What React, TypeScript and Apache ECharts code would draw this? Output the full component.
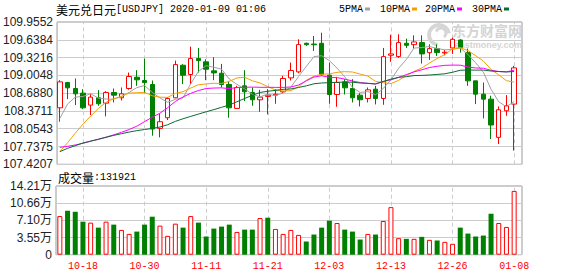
import React, { useEffect, useRef } from 'react';
import * as echarts from 'echarts';

const dates = [
  '10-15','10-16','10-17','10-18','10-21','10-22','10-23','10-24','10-25','10-28',
  '10-29','10-30','10-31','11-01','11-04','11-05','11-06','11-07','11-08','11-11',
  '11-12','11-13','11-14','11-15','11-18','11-19','11-20','11-21','11-22','11-25',
  '11-26','11-27','11-28','11-29','12-02','12-03','12-04','12-05','12-06','12-09',
  '12-10','12-11','12-12','12-13','12-16','12-17','12-18','12-19','12-20','12-23',
  '12-24','12-26','12-27','12-30','12-31','01-02','01-03','01-06','01-07','01-08',
];
const labelDates = ['10-18','10-30','11-11','11-21','12-03','12-13','12-26','01-08'];

const opens = [
  108.427,108.877,108.771,108.688,108.475,108.605,108.510,108.700,108.605,108.771,
  108.972,108.913,108.842,108.060,108.250,108.605,109.185,109.020,109.304,109.245,
  109.085,109.043,108.842,108.416,108.818,108.700,108.570,108.629,108.652,108.712,
  108.960,109.067,109.576,109.562,109.576,109.008,108.664,108.889,108.771,108.652,
  108.593,108.759,108.593,109.363,109.339,109.576,109.552,109.588,109.410,109.481,
  109.404,109.493,109.635,109.410,108.907,108.670,108.581,107.901,108.374,108.493,
];
const closes = [
  108.889,108.783,108.676,108.427,108.617,108.499,108.700,108.652,108.676,108.984,
  108.925,108.877,108.049,108.179,108.593,109.197,109.008,109.304,109.268,109.114,
  109.049,108.842,108.427,108.789,108.712,108.570,108.617,108.652,108.670,108.949,
  109.091,109.552,109.552,109.550,109.026,108.664,108.877,108.783,108.605,108.570,
  108.747,108.593,109.339,109.387,109.588,109.540,109.600,109.387,109.481,109.410,
  109.416,109.647,109.505,108.907,108.670,108.581,108.120,108.392,108.463,109.138,
];
const lows = [
  108.179,108.581,108.475,108.404,108.297,108.463,108.274,108.522,108.558,108.747,
  108.818,108.688,107.930,107.901,108.208,108.599,108.848,108.848,109.055,108.919,
  108.919,108.789,108.250,108.404,108.546,108.463,108.356,108.309,108.499,108.688,
  108.913,109.043,109.529,109.440,108.996,108.499,108.445,108.664,108.522,108.451,
  108.522,108.487,108.481,109.245,109.316,109.493,109.481,109.215,109.280,109.351,
  109.363,109.387,109.410,108.818,108.493,108.238,107.871,107.782,108.285,107.664,
];
const highs = [
  108.919,108.889,108.949,108.759,108.670,108.741,108.724,108.771,108.789,109.055,
  109.097,109.304,108.913,108.315,108.617,109.268,109.203,109.517,109.493,109.292,
  109.327,109.209,108.907,108.818,109.097,108.789,108.747,108.759,108.759,108.996,
  109.233,109.647,109.588,109.706,109.765,109.233,108.978,108.937,108.937,108.688,
  108.789,108.818,109.493,109.730,109.736,109.659,109.718,109.718,109.558,109.558,
  109.458,109.677,109.647,109.481,108.907,108.877,108.641,108.451,108.652,109.174,
];

const ma5 = [
  108.238,108.493,108.617,108.629,108.678,108.600,108.584,108.579,108.629,108.702,
  108.787,108.823,108.702,108.603,108.525,108.579,108.605,108.856,109.074,109.178,
  109.149,109.115,108.940,108.844,108.764,108.668,108.623,108.668,108.644,108.692,
  108.796,108.983,109.163,109.339,109.354,109.269,109.134,108.980,108.791,108.700,
  108.716,108.660,108.771,108.927,109.131,109.289,109.491,109.500,109.519,109.484,
  109.459,109.468,109.492,109.377,109.229,109.062,108.757,108.534,108.445,108.539,
];
const ma10 = [
  107.646,107.805,107.975,108.135,108.280,108.415,108.525,108.590,108.629,108.690,
  108.694,108.703,108.641,108.616,108.613,108.683,108.714,108.779,108.838,108.851,
  108.864,108.860,108.898,108.959,108.971,108.908,108.869,108.804,108.744,108.728,
  108.732,108.803,108.915,108.992,109.023,109.032,109.058,109.071,109.065,109.027,
  108.993,108.897,108.875,108.859,108.915,109.003,109.075,109.136,109.223,109.307,
  109.374,109.480,109.496,109.448,109.356,109.260,109.112,109.013,108.911,108.884,
];
const ma20 = [
  107.723,107.740,107.765,107.795,107.830,107.868,107.905,107.945,107.990,108.040,
  108.100,108.180,108.260,108.330,108.430,108.540,108.620,108.685,108.734,108.771,
  108.779,108.782,108.769,108.787,108.792,108.796,108.792,108.792,108.791,108.790,
  108.798,108.832,108.907,108.975,108.997,108.970,108.964,108.938,108.905,108.877,
  108.862,108.850,108.895,108.925,108.969,109.018,109.067,109.104,109.144,109.167,
  109.183,109.188,109.186,109.154,109.136,109.132,109.094,109.074,109.067,109.096,
];
const ma30 = [
  107.646,107.705,107.752,107.800,107.835,107.865,107.901,107.936,107.966,107.995,
  108.020,108.040,108.060,108.085,108.125,108.185,108.232,108.274,108.315,108.356,
  108.395,108.435,108.478,108.534,108.593,108.650,108.700,108.722,108.737,108.756,
  108.763,108.789,108.818,108.855,108.869,108.875,108.881,108.885,108.883,108.869,
  108.863,108.853,108.896,108.937,108.970,108.981,109.001,109.004,109.011,109.021,
  109.033,109.060,109.096,109.100,109.098,109.099,109.082,109.073,109.066,109.073,
];

const volumes = [
  79900,90900,88800,68300,66300,56000,68300,62200,51200,43000,
  47800,62200,78600,60100,38900,64200,56000,79900,66300,37600,
  54000,58100,62200,47100,51900,51900,75800,76500,53300,43000,
  51200,41000,27300,41700,56000,70400,65600,51900,47800,31400,
  43000,41700,69700,98400,34200,32800,32800,36900,30700,29400,
  26600,22500,56000,43700,37600,39600,84700,65600,57400,131921,
];
// 1 = red hollow bar, 0 = green filled bar
const volumeUp = [
  1,0,0,0,1,0,1,0,1,1,
  0,0,0,1,1,1,0,1,0,0,
  0,0,0,1,0,0,1,0,1,1,
  1,1,0,0,0,0,1,0,0,0,
  1,0,1,1,1,0,1,0,1,0,
  1,1,0,0,0,0,0,1,1,1,
];

const priceTickLabels = ['107.4207','107.7375','108.0543','108.3711','108.6880','109.0048','109.3216','109.6384','109.9552'];
const volumeTickLabels = ['0','3.55万','7.10万','10.66万','14.21万'];
const PRICE_MIN = 107.4207;
const PRICE_MAX = 109.9552;
const VOL_MAX = 142098;

const maNames = ['5PMA','10PMA','20PMA','30PMA'];
const maColors = ['#a0a0a0','#f5a000','#ff00ff','#0b6b30'];
const maData = [ma5, ma10, ma20, ma30];

const UP = '#ff0000';
const DOWN = '#008000';
const CJK = "'Noto Sans CJK SC'";
const MONO = "'Liberation Mono'";
const SANS = "'Liberation Sans', 'Noto Sans CJK SC'";

function txt(text: string, x: number, y: number, size: number, family: string, fill: string, extra: any = {}) {
  return {
    type: 'text', x, y, silent: true, z: 10,
    style: { text, fill, fontSize: size, fontFamily: family, verticalAlign: 'middle', textVerticalAlign: 'middle', ...extra },
  };
}

function buildOption() {
  const legendX = [339, 380, 425, 472];
  const graphics: any[] = [
    txt('美元兑日元', 56, 9, 12, CJK, '#000'),
    txt('[USDJPY] 2020-01-09 01:06', 116, 9, 10, MONO, '#000'),
    txt('成交量', 58, 177, 12, CJK, '#000'),
    txt(':131921', 94, 177, 10, MONO, '#000'),
  ];
  maNames.forEach((n, i) => {
    graphics.push(txt(n, legendX[i], 9, 10, MONO, '#000'));
    graphics.push({
      type: 'rect', silent: true, z: 10,
      shape: { x: legendX[i] + n.length * 6 + 2, y: 7.5, width: 5, height: 3 },
      style: { fill: maColors[i] },
    });
  });
  // watermark
  graphics.push({
    type: 'group', silent: true, z: 1,
    children: [
      { type: 'arc', shape: { cx: 439, cy: 35, r: 10, startAngle: Math.PI * 0.55, endAngle: Math.PI * 1.95 }, style: { stroke: '#d6d6d6', lineWidth: 4, fill: 'none' }, z: 1 },
      { type: 'arc', shape: { cx: 441, cy: 33, r: 5, startAngle: Math.PI * 1.1, endAngle: Math.PI * 2.3 }, style: { stroke: '#d6d6d6', lineWidth: 3, fill: 'none' }, z: 1 },
      { type: 'text', x: 452, y: 30, z: 1, style: { text: '东方财富网', fill: '#d4d4d4', fontSize: 14, fontWeight: 'bold', fontFamily: CJK, verticalAlign: 'middle', textVerticalAlign: 'middle' } },
      { type: 'text', x: 522, y: 44.5, z: 1, style: { text: 'eastmoney.com', fill: '#d4d4d4', fontSize: 9, fontWeight: 'bold', fontFamily: "'Liberation Sans'", align: 'right', textAlign: 'right', verticalAlign: 'middle', textVerticalAlign: 'middle' } },
    ],
  });

  const vLines = {
    silent: true, symbol: ['none', 'none'], z: 1,
    label: { show: false },
    lineStyle: { type: [4, 3], color: '#cccccc', width: 1 },
    emphasis: { disabled: true },
    data: labelDates.map((d) => ({ xAxis: d })),
  };

  const bgY = (labels: string[], gridIndex: number) => ({
    type: 'value', gridIndex, min: 0, max: labels.length - 1, interval: 1,
    axisLine: { show: false }, axisTick: { show: false },
    axisLabel: {
      margin: 4, color: '#222', fontSize: 12, fontFamily: SANS,
      formatter: (v: number) => labels[Math.round(v)],
    },
    splitLine: { show: true, lineStyle: { color: '#cccccc', width: 1 } },
  });

  return {
    animation: false,
    backgroundColor: '#fff',
    grid: [
      { left: 56, top: 22, width: 466, height: 142.3, show: true, borderColor: '#999', borderWidth: 1 },
      { left: 56, top: 186, width: 466, height: 68.7, show: true, borderColor: '#999', borderWidth: 1 },
      { left: 56, top: 22, width: 462, height: 142.3 },
      { left: 56, top: 186, width: 462, height: 68.7 },
    ],
    xAxis: [
      { type: 'value', gridIndex: 0, show: false, min: 0, max: 1 },
      { type: 'value', gridIndex: 1, show: false, min: 0, max: 1 },
      {
        type: 'category', gridIndex: 2, data: dates, boundaryGap: true,
        axisLine: { show: false }, axisTick: { show: false }, axisLabel: { show: false }, splitLine: { show: false },
      },
      {
        type: 'category', gridIndex: 3, data: dates, boundaryGap: true,
        axisLine: { show: false }, axisTick: { show: false }, splitLine: { show: false },
        axisLabel: {
          show: true, margin: 7, color: UP, fontSize: 10, fontFamily: MONO,
          interval: (i: number) => labelDates.indexOf(dates[i]) >= 0,
        },
      },
    ],
    yAxis: [
      bgY(priceTickLabels, 0),
      bgY(volumeTickLabels, 1),
      { type: 'value', gridIndex: 2, min: PRICE_MIN, max: PRICE_MAX, show: false, splitLine: { show: false } },
      { type: 'value', gridIndex: 3, min: 0, max: VOL_MAX, show: false, splitLine: { show: false } },
    ],
    graphic: graphics,
    series: [
      {
        type: 'candlestick', xAxisIndex: 2, yAxisIndex: 2, barWidth: 5, z: 2,
        data: opens.map((o, i) => [o, closes[i], lows[i], highs[i]]),
        itemStyle: { color: '#ffffff', color0: DOWN, borderColor: UP, borderColor0: DOWN, borderWidth: 1 },
        markLine: vLines,
      },
      ...maData.map((d, i) => ({
        type: 'line', name: maNames[i], xAxisIndex: 2, yAxisIndex: 2, data: d, z: 3,
        symbol: 'none', showSymbol: false, smooth: false,
        lineStyle: { color: maColors[i], width: 1 },
      })),
      {
        type: 'bar', xAxisIndex: 3, yAxisIndex: 3, barWidth: 5, z: 2,
        data: volumes.map((v, i) => ({
          value: v,
          itemStyle: volumeUp[i]
            ? { color: '#ffffff', borderColor: UP, borderWidth: 1 }
            : { color: DOWN, borderColor: DOWN, borderWidth: 0 },
        })),
        markLine: vLines,
      },
    ],
  };
}

export default function App() {
  const ref = useRef<HTMLDivElement>(null);
  useEffect(() => {
    if (!ref.current) return;
    const chart = echarts.init(ref.current, undefined, { renderer: 'svg' });
    chart.setOption(buildOption() as any);
    return () => chart.dispose();
  }, []);
  return (
    <div
      ref={ref}
      style={{ position: 'absolute', left: 0, top: 0, width: 578, height: 276, background: '#fff' }}
    />
  );
}
